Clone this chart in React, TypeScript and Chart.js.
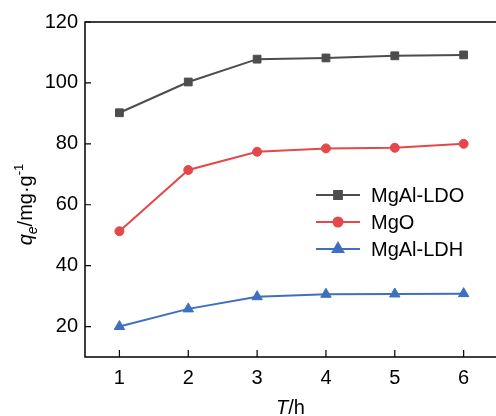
import React, { useEffect, useRef } from "react";
import { Chart, registerables } from "chart.js";
import { drawPoint } from "chart.js/helpers";

Chart.register(...registerables);

const hours = [1, 2, 3, 4, 5, 6];
const ldoValues = [90.2, 100.3, 107.8, 108.2, 108.9, 109.2];
const mgoValues = [51.3, 71.4, 77.4, 78.5, 78.7, 80.0];
const ldhValues = [20.0, 25.8, 29.8, 30.6, 30.7, 30.8];
const yTicks = [20, 40, 60, 80, 100, 120];
const xTicks = [1, 2, 3, 4, 5, 6];
const seriesNames = ["MgAl-LDO", "MgO", "MgAl-LDH"];

const FONT = "'Liberation Sans', Arial, sans-serif";

const toXY = (vals: number[]) => vals.map((v, i) => ({ x: hours[i], y: v }));

const decorPlugin = {
  id: "decor",
  afterDraw(chart: any) {
    const ctx: CanvasRenderingContext2D = chart.ctx;
    const { left, right, top, bottom } = chart.chartArea;
    const xs = chart.scales.x;
    const ys = chart.scales.y;
    ctx.save();
    ctx.strokeStyle = "#000";
    ctx.lineWidth = 1.5;
    // frame
    ctx.beginPath();
    ctx.moveTo(left, top);
    ctx.lineTo(right, top);
    ctx.moveTo(left, top - 0.75);
    ctx.lineTo(left, bottom);
    ctx.lineTo(right, bottom);
    ctx.stroke();
    // inward ticks
    ctx.lineWidth = 1.2;
    ctx.beginPath();
    yTicks.forEach((v) => {
      const y = ys.getPixelForValue(v);
      ctx.moveTo(left, y);
      ctx.lineTo(left + 6, y);
    });
    xTicks.forEach((v) => {
      const x = xs.getPixelForValue(v);
      ctx.moveTo(x, bottom);
      ctx.lineTo(x, bottom - 7);
    });
    ctx.stroke();

    // x tick labels
    ctx.fillStyle = "#000";
    ctx.font = `20px ${FONT}`;
    ctx.textAlign = "center";
    ctx.textBaseline = "middle";
    xTicks.forEach((v) => {
      ctx.fillText(String(v), xs.getPixelForValue(v), bottom + 21);
    });

    // legend
    const lx = left + 231;
    const rows = [top + 173, top + 200, top + 227];
    chart.data.datasets.forEach((ds: any, i: number) => {
      const y = rows[i];
      ctx.strokeStyle = ds.borderColor;
      ctx.lineWidth = 2;
      ctx.beginPath();
      ctx.moveTo(lx, y);
      ctx.lineTo(lx + 44, y);
      ctx.stroke();
      ctx.fillStyle = ds.borderColor;
      ctx.strokeStyle = ds.borderColor;
      drawPoint(ctx, { pointStyle: ds.pointStyle, radius: ds.pointRadius, rotation: 0, borderWidth: 1 } as any, lx + 22, y);
      ctx.fillStyle = "#000";
      ctx.font = `20px ${FONT}`;
      ctx.textBaseline = "middle";
      ctx.textAlign = "left";
      ctx.fillText(ds.label, lx + 55, y + 1);
    });

    // x title: T/h
    ctx.fillStyle = "#000";
    ctx.textBaseline = "alphabetic";
    ctx.textAlign = "left";
    const parts: [string, string][] = [
      ["T", `italic 20px ${FONT}`],
      ["/h", `20px ${FONT}`],
    ];
    let w = 0;
    parts.forEach(([t, f]) => { ctx.font = f; w += ctx.measureText(t).width; });
    let x = (left + right) / 2 - w / 2;
    const by = bottom + 57;
    parts.forEach(([t, f]) => { ctx.font = f; ctx.fillText(t, x, by); x += ctx.measureText(t).width; });

    // y title: q_e/mg·g^-1
    ctx.save();
    ctx.translate(32, (top + bottom) / 2 + 15);
    ctx.rotate(-Math.PI / 2);
    const yparts: [string, string, number][] = [
      ["q", `italic 20px ${FONT}`, 0],
      ["e", `italic 14px ${FONT}`, 5],
      ["/mg·g", `20px ${FONT}`, 0],
      ["-1", `13px ${FONT}`, -9],
    ];
    let yw = 0;
    yparts.forEach(([t, f]) => { ctx.font = f; yw += ctx.measureText(t).width; });
    let px = -yw / 2;
    yparts.forEach(([t, f, dy]) => { ctx.font = f; ctx.fillText(t, px, dy); px += ctx.measureText(t).width; });
    ctx.restore();

    ctx.restore();
  },
};

export default function App() {
  const ref = useRef<HTMLCanvasElement>(null);
  useEffect(() => {
    document.body.style.margin = "0";
    const colors = ["#4d4d4d", "#e5484a", "#3f6fbf"];
    const styles = ["rect", "circle", "triangle"];
    const radii = [5.5, 4.5, 6];
    const all = [ldoValues, mgoValues, ldhValues];
    const chart = new Chart(ref.current!, {
      type: "line",
      data: {
        datasets: all.map((vals, i) => ({
          label: seriesNames[i],
          data: toXY(vals),
          borderColor: colors[i],
          backgroundColor: colors[i],
          pointBackgroundColor: colors[i],
          pointBorderColor: colors[i],
          pointStyle: styles[i],
          pointRadius: radii[i],
          pointBorderWidth: 1,
          borderWidth: 2,
          clip: false,
        })),
      },
      options: {
        animation: false,
        responsive: false,
        layout: { autoPadding: false, padding: { top: 22, right: 0, left: 0, bottom: 0 } },
        plugins: { legend: { display: false }, tooltip: { enabled: false } },
        scales: {
          x: {
            type: "linear",
            min: 0.5,
            max: 6.47,
            afterBuildTicks: (s: any) => { s.ticks = xTicks.map((v) => ({ value: v })); },
            afterFit: (s: any) => { s.height = 59; },
            grid: { display: false, drawTicks: false },
            border: { display: false },
            ticks: { display: false },
          },
          y: {
            min: 10,
            max: 120,
            afterBuildTicks: (s: any) => { s.ticks = yTicks.map((v) => ({ value: v })); },
            afterFit: (s: any) => { s.width = 85; },
            grid: { display: false, drawTicks: false },
            border: { display: false },
            ticks: { color: "#000", font: { family: FONT, size: 20 }, padding: 7 },
          },
        },
      },
      plugins: [decorPlugin],
    } as any);
    return () => chart.destroy();
  }, []);
  return <canvas ref={ref} width={496} height={416} style={{ display: "block" }} />;
}
